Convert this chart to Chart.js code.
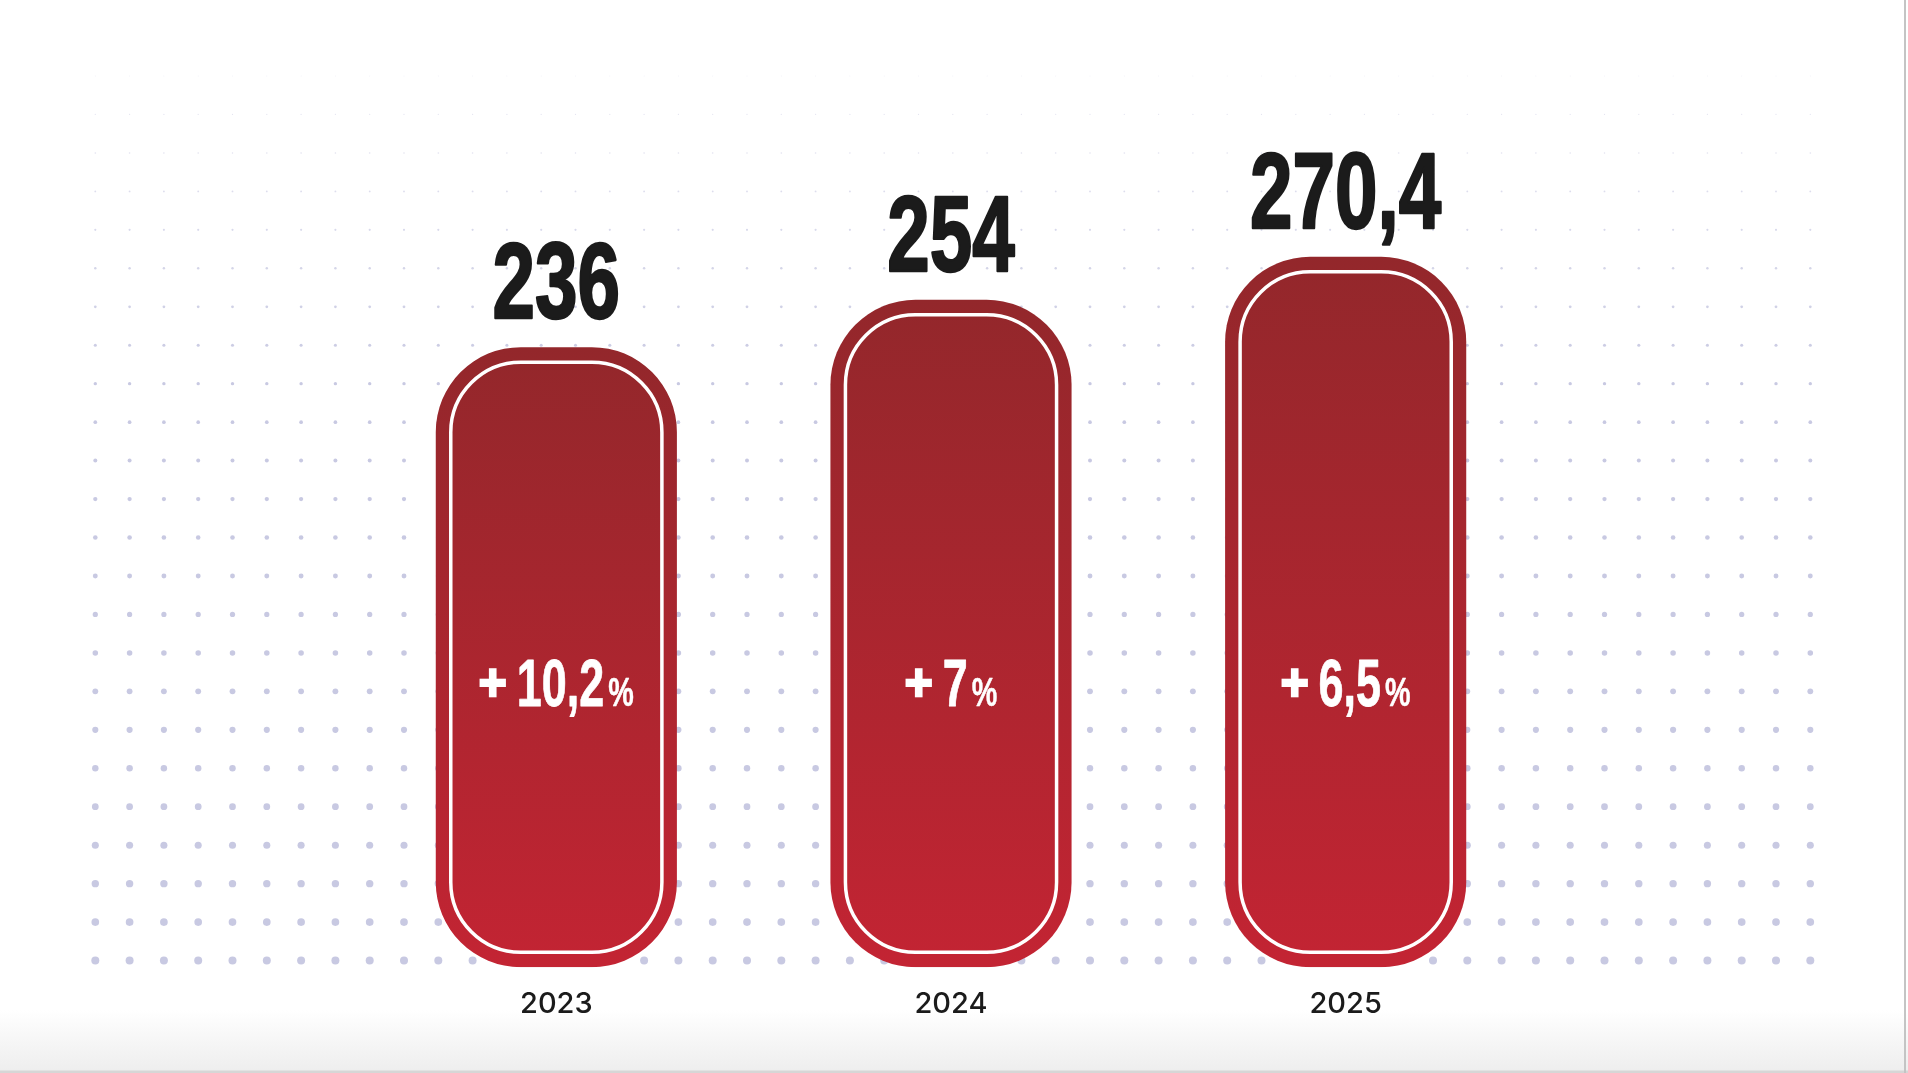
<!DOCTYPE html>
<html>
<head>
<meta charset="utf-8">
<title>Growth chart</title>
<script src="https://cdn.jsdelivr.net/npm/chart.js@4.4.0/dist/chart.umd.min.js"></script>
<style>
  html, body { margin: 0; padding: 0; width: 1908px; height: 1073px; overflow: hidden; }
  body { position: relative; background: linear-gradient(to bottom, #ffffff 0px, #ffffff 1010px, #eeeeee 1070px, #d6d6d6 1071px, #d6d6d6 1073px); }
  #wrap { position: absolute; left: 0; top: 0; width: 1908px; height: 1073px; }
  #edge { position: absolute; left: 1904px; top: 0; width: 2px; height: 1073px; background: #c4c4c4; }
</style>
</head>
<body>
<div id="wrap"><canvas id="chart"></canvas></div>
<div id="edge"></div>
<script>
// chart data
const years = ['2023', '2024', '2025'];
const values = [236, 254, 270.4];
const valueLabels = ['236', '254', '270,4'];
const growthLabels = ['10,2', '7', '6,5'];

const CONDENSED = '"Liberation Sans Narrow", "Liberation Sans", Arial, sans-serif';

// vertical gradient for each bar, from its top down to the axis
function barGradient(ctx) {
  const chart = ctx.chart;
  const yScale = chart.scales.y;
  if (!yScale || ctx.dataIndex === undefined) return '#a5252e';
  const top = yScale.getPixelForValue(values[ctx.dataIndex]);
  const base = yScale.getPixelForValue(0);
  if (!isFinite(top) || !isFinite(base)) return '#a5252e';
  const g = chart.ctx.createLinearGradient(0, top, 0, base);
  g.addColorStop(0, '#93272b');
  g.addColorStop(1, '#c32433');
  return g;
}

// draw text squeezed horizontally so a regular font looks condensed
function condensedText(ctx, text, x, y, size, digitWidth, color, weight) {
  ctx.save();
  ctx.font = `bold ${size}px ${CONDENSED}`;
  const sx = digitWidth / ctx.measureText('0').width;
  const w = ctx.measureText(text).width * sx;
  ctx.translate(x, y);
  ctx.scale(sx, 1);
  ctx.fillStyle = color;
  ctx.strokeStyle = color;
  ctx.lineWidth = weight;
  ctx.lineJoin = 'round';
  ctx.textAlign = 'left';
  ctx.textBaseline = 'alphabetic';
  ctx.fillText(text, 0, 0);
  if (weight > 0) ctx.strokeText(text, 0, 0);
  ctx.restore();
  return w;
}

function measureCondensed(ctx, text, size, digitWidth) {
  ctx.save();
  ctx.font = `bold ${size}px ${CONDENSED}`;
  const sx = digitWidth / ctx.measureText('0').width;
  const w = ctx.measureText(text).width * sx;
  ctx.restore();
  return w;
}

// dotted background pattern, dots grow toward the bottom
const dotGrid = {
  id: 'dotGrid',
  beforeDatasetsDraw(chart) {
    const ctx = chart.ctx;
    const rows = 24, cols = 51;
    ctx.save();
    ctx.fillStyle = '#c8c9e2';
    for (let r = 0; r < rows; r++) {
      const y = 76 + r * 38.46;
      const rad = 0.45 + 3.55 * r / (rows - 1);
      ctx.globalAlpha = 0.4 + 0.6 * Math.min(1, r / 8);
      for (let c = 0; c < cols; c++) {
        const x = 95.3 + c * 34.3;
        ctx.beginPath();
        ctx.arc(x, y, rad, 0, Math.PI * 2);
        ctx.fill();
      }
    }
    ctx.restore();
  }
};

function roundRectPath(ctx, x, y, w, h, r) {
  ctx.beginPath();
  ctx.moveTo(x + r, y);
  ctx.lineTo(x + w - r, y);
  ctx.arcTo(x + w, y, x + w, y + r, r);
  ctx.lineTo(x + w, y + h - r);
  ctx.arcTo(x + w, y + h, x + w - r, y + h, r);
  ctx.lineTo(x + r, y + h);
  ctx.arcTo(x, y + h, x, y + h - r, r);
  ctx.lineTo(x, y + r);
  ctx.arcTo(x, y, x + r, y, r);
  ctx.closePath();
}

// white inner outline, value above each bar, growth inside
const barDecor = {
  id: 'barDecor',
  afterDatasetsDraw(chart) {
    const ctx = chart.ctx;
    const meta = chart.getDatasetMeta(0);
    const base = chart.scales.y.getPixelForValue(0);
    meta.data.forEach((bar, i) => {
      const p = bar.getProps(['x', 'y', 'base', 'width'], true);
      const left = p.x - p.width / 2;
      const inset = 15;

      ctx.save();
      ctx.strokeStyle = '#ffffff';
      ctx.lineWidth = 3.5;
      roundRectPath(ctx, left + inset, p.y + inset, p.width - inset * 2, p.base - p.y - inset * 2, 85 - inset);
      ctx.stroke();
      ctx.restore();

      // value label
      const vw = measureCondensed(ctx, valueLabels[i], 107, 42.5);
      condensedText(ctx, valueLabels[i], p.x - vw / 2, p.y - 29, 107, 42.5, '#1b1b1b', 2.5);

      // growth label: "+" number "%"
      const gy = base - 261;
      ctx.save();
      ctx.font = `bold 52px ${CONDENSED}`;
      const plusW = ctx.measureText('+').width * 0.92;
      ctx.restore();
      const numW = measureCondensed(ctx, growthLabels[i], 67, 25);
      const pctW = measureCondensed(ctx, '%', 40, 16);
      const total = plusW + 10 + numW + 4 + pctW;
      let gx = p.x - total / 2;

      ctx.save();
      ctx.font = `bold 52px ${CONDENSED}`;
      ctx.fillStyle = '#ffffff';
      ctx.strokeStyle = '#ffffff';
      ctx.lineWidth = 2.5;
      ctx.textBaseline = 'alphabetic';
      ctx.textAlign = 'left';
      ctx.translate(gx, gy);
      ctx.scale(0.92, 1);
      ctx.fillText('+', 0, -6);
      ctx.strokeText('+', 0, -6);
      ctx.restore();
      gx += plusW + 10;
      gx += condensedText(ctx, growthLabels[i], gx, gy, 67, 25, '#ffffff', 0.8) + 4;
      condensedText(ctx, '%', gx, gy, 40, 16, '#ffffff', 0.5);
    });
  }
};

const chart = new Chart(document.getElementById('chart'), {
  type: 'bar',
  data: {
    labels: years,
    datasets: [{
      data: values,
      backgroundColor: barGradient,
      borderWidth: 0,
      borderRadius: 85,
      borderSkipped: false,
      categoryPercentage: 1,
      barPercentage: 0.611
    }]
  },
  options: {
    responsive: true,
    maintainAspectRatio: false,
    animation: false,
    layout: { padding: { left: 359, right: 365, top: 179, bottom: 31 } },
    plugins: {
      legend: { display: false },
      tooltip: { enabled: false }
    },
    scales: {
      x: {
        grid: { display: false, drawTicks: false },
        border: { display: false },
        ticks: {
          color: '#1b1b1b',
          padding: 20,
          font: { family: 'Inter, "Noto Sans", sans-serif', size: 29, weight: '500' }
        }
      },
      y: {
        display: false,
        min: 0,
        max: 300
      }
    }
  },
  plugins: [dotGrid, barDecor]
});
</script>
</body>
</html>
